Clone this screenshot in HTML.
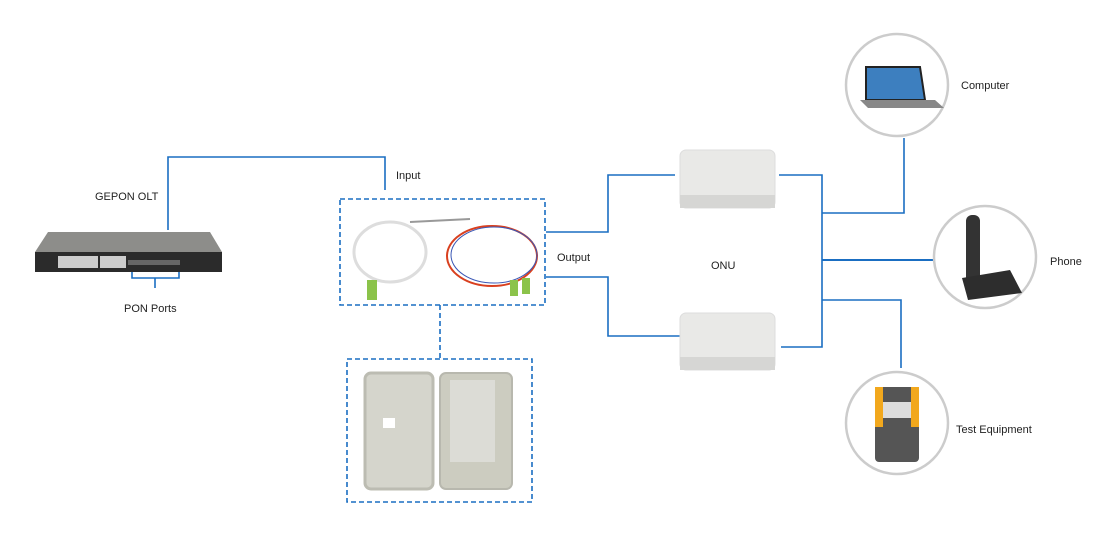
<!DOCTYPE html>
<html><head><meta charset="utf-8"><style>
html,body{margin:0;padding:0;background:#fff}
svg{display:block}
text{font-family:"Liberation Sans",sans-serif;font-size:11px;fill:#222}
</style></head><body>
<svg width="1100" height="550" viewBox="0 0 1100 550" xmlns="http://www.w3.org/2000/svg">
<g fill="none" stroke="#1a6ec2" stroke-width="1.6">
<polyline points="168,230 168,157 385,157 385,190"/>
<polyline points="132,268 132,278 179,278 179,268"/>
<line x1="155" y1="278" x2="155" y2="288"/>
<polyline points="546,232 608,232 608,175 675,175"/>
<polyline points="546,277 608,277 608,336 680,336"/>
<polyline points="779,175 822,175 822,347 781,347"/>
<polyline points="822,213 904,213 904,138"/>
<line x1="822" y1="260" x2="938" y2="260" stroke-width="2"/>
<polyline points="822,300 901,300 901,368"/>
</g>
<g fill="none" stroke="#1a6ec2" stroke-width="1.6" stroke-dasharray="5,3">
<rect x="340" y="199" width="205" height="106"/>
<line x1="440" y1="305" x2="440" y2="358"/>
<rect x="347" y="359" width="185" height="143"/>
</g>
<!-- OLT -->
<polygon points="48,232 210,232 222,252 35,252" fill="#8d8d8a"/>
<rect x="35" y="252" width="187" height="20" fill="#2b2b2b"/>
<g fill="#ccc">
<rect x="58" y="256" width="40" height="12"/><rect x="100" y="256" width="26" height="12"/>
</g>
<g fill="#666"><rect x="128" y="260" width="52" height="5"/></g>
<!-- splitter -->
<ellipse cx="390" cy="252" rx="36" ry="30" fill="none" stroke="#ddd" stroke-width="3"/>
<line x1="410" y1="222" x2="470" y2="219" stroke="#999" stroke-width="2"/>
<ellipse cx="492" cy="256" rx="45" ry="30" fill="none" stroke="#d9401f" stroke-width="2"/>
<ellipse cx="494" cy="255" rx="43" ry="28" fill="none" stroke="#3b58b5" stroke-width="1"/>
<rect x="367" y="280" width="10" height="20" fill="#8bc34a"/>
<rect x="510" y="280" width="8" height="16" fill="#8bc34a"/><rect x="522" y="278" width="8" height="16" fill="#8bc34a"/>
<!-- closure -->
<rect x="365" y="373" width="68" height="116" rx="6" fill="#d5d5cc" stroke="#bcbcb2" stroke-width="3"/>
<rect x="440" y="373" width="72" height="116" rx="6" fill="#ccccc0" stroke="#b8b8ae" stroke-width="2"/>
<rect x="450" y="380" width="45" height="82" fill="#dcdcd6"/>
<rect x="383" y="418" width="12" height="10" fill="#fff"/>
<!-- ONUs -->
<rect x="680" y="150" width="95" height="58" rx="6" fill="#e9e9e7" stroke="#ddd"/>
<rect x="680" y="195" width="95" height="13" fill="#d6d6d4"/>
<rect x="680" y="313" width="95" height="57" rx="6" fill="#e9e9e7" stroke="#ddd"/>
<rect x="680" y="357" width="95" height="13" fill="#d6d6d4"/>
<!-- circles -->
<g fill="#fff" stroke="#ccc" stroke-width="2.5">
<circle cx="897" cy="85" r="51"/><circle cx="985" cy="257" r="51"/><circle cx="897" cy="423" r="51"/>
</g>
<polygon points="866,67 920,67 925,100 866,100" fill="#3d7fbf" stroke="#222" stroke-width="2"/>
<polygon points="860,100 935,100 944,108 868,108" fill="#888"/>
<rect x="966" y="215" width="14" height="70" rx="6" fill="#333"/>
<polygon points="962,278 1010,270 1022,293 968,300" fill="#2d2d2d"/>
<rect x="875" y="387" width="44" height="75" rx="4" fill="#555"/>
<rect x="875" y="387" width="8" height="40" fill="#f2a81d"/><rect x="911" y="387" width="8" height="40" fill="#f2a81d"/>
<rect x="883" y="402" width="28" height="16" fill="#ddd"/>
<!-- labels -->
<text x="95" y="200">GEPON OLT</text>
<text x="124" y="312">PON Ports</text>
<text x="396" y="179">Input</text>
<text x="557" y="261">Output</text>
<text x="711" y="269">ONU</text>
<text x="961" y="89">Computer</text>
<text x="1050" y="265">Phone</text>
<text x="956" y="433">Test Equipment</text>
</svg>
</body></html>
